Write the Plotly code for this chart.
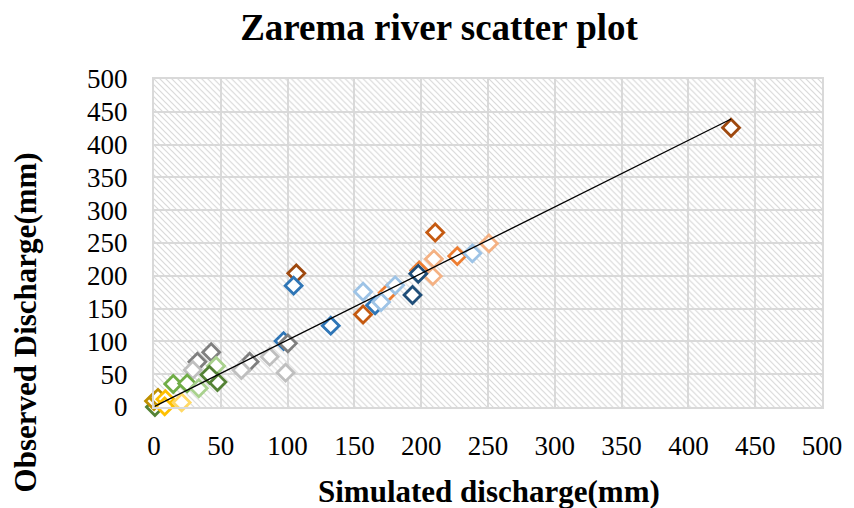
import base64
import plotly.graph_objects as go

# ---- data ----
series_names = ["s1", "s2", "s3", "s4", "s5", "s6", "s7", "s8",
                "s9", "s10", "s11", "s12", "s13", "s14", "s15"]
series_colors = ["#9E480E", "#C55A11", "#ED7D31", "#F4B183", "#2E75B6",
                 "#1F4E79", "#9DC3E6", "#7F7F7F", "#BFBFBF", "#70AD47",
                 "#A9D18E", "#548235", "#BF9000", "#FFC000", "#FFD966"]
sim_s1 = [431.9, 106.5]
obs_s1 = [425.7, 203.7]
sim_s2 = [210.5, 156.5]
obs_s2 = [266.0, 141.0]
sim_s3 = [174.9, 227.0, 198.5]
obs_s3 = [174.0, 230.0, 208.0]
sim_s4 = [209.5, 208.7, 250.7]
obs_s4 = [225.5, 199.5, 249.4]
sim_s5 = [104.5, 132.3, 97.0, 165.5]
obs_s5 = [185.0, 124.0, 100.5, 155.0]
sim_s6 = [193.5, 197.8]
obs_s6 = [170.7, 203.0]
sim_s7 = [156.5, 170.0, 180.5, 238.3]
obs_s7 = [175.7, 160.0, 185.5, 234.2]
sim_s8 = [100.2, 71.6, 42.8, 32.5]
obs_s8 = [97.0, 69.0, 83.5, 69.0]
sim_s9 = [86.6, 98.5, 65.4, 29.0]
obs_s9 = [76.7, 52.3, 56.4, 56.4]
sim_s10 = [14.4, 24.8]
obs_s10 = [35.0, 36.0]
sim_s11 = [46.5, 33.5]
obs_s11 = [62.5, 28.5]
sim_s12 = [47.5, 41.5, 0.7]
obs_s12 = [38.0, 49.0, 0.0]
sim_s13 = [0.0, 3.0]
obs_s13 = [9.0, 14.0]
sim_s14 = [8.5, 8.0]
obs_s14 = [12.0, 1.0]
sim_s15 = [20.7]
obs_s15 = [7.0]

sim_all = [sim_s1, sim_s2, sim_s3, sim_s4, sim_s5, sim_s6, sim_s7, sim_s8,
           sim_s9, sim_s10, sim_s11, sim_s12, sim_s13, sim_s14, sim_s15]
obs_all = [obs_s1, obs_s2, obs_s3, obs_s4, obs_s5, obs_s6, obs_s7, obs_s8,
           obs_s9, obs_s10, obs_s11, obs_s12, obs_s13, obs_s14, obs_s15]

trend_x = [0.5, 432.0]
trend_y = [1.0, 439.0]

tick_vals = [0, 50, 100, 150, 200, 250, 300, 350, 400, 450, 500]

FONT = "Liberation Serif, Times New Roman, serif"

# page has an 8px body margin; figure sized so that it fits the window
W, H = 846, 500
PL, PT = 146, 71          # plot-area left / top inside the figure
PW, PH = 670, 328         # plot-area width / height

fig = go.Figure()
for name, color, xs, ys in zip(series_names, series_colors, sim_all, obs_all):
    fig.add_trace(go.Scatter(
        x=xs, y=ys, mode="markers", name=name, cliponaxis=False,
        marker=dict(symbol="diamond", size=13, color="white",
                    line=dict(color=color, width=2.8)),
        showlegend=False))

fig.add_trace(go.Scatter(x=trend_x, y=trend_y, mode="lines",
                         line=dict(color="black", width=1.3),
                         showlegend=False, cliponaxis=False))

# hatched plot-area background
svg = ("<svg xmlns='http://www.w3.org/2000/svg' width='670' height='328'>"
       "<defs><pattern id='p' width='6' height='6' patternUnits='userSpaceOnUse'>"
       "<path d='M-1,-1 L7,7 M-4,2 L2,8 M2,-4 L8,2' stroke='#d9d9d9' stroke-width='1.2'/>"
       "</pattern></defs><rect width='670' height='328' fill='white'/>"
       "<rect width='670' height='328' fill='url(#p)'/></svg>")
src = "data:image/svg+xml;base64," + base64.b64encode(svg.encode()).decode()
fig.add_layout_image(dict(source=src, xref="x", yref="y", x=0, y=500,
                          sizex=500, sizey=500, sizing="stretch",
                          layer="below"))

axis_common = dict(range=[0, 500], tickvals=tick_vals, showgrid=True,
                   gridcolor="#d9d9d9", gridwidth=2, zeroline=False,
                   showline=True, linecolor="#d9d9d9", linewidth=2,
                   mirror=True, ticks="outside", ticklen=0,
                   tickfont=dict(family=FONT, size=27, color="black"))

fig.update_layout(
    width=W, height=H,
    margin=dict(l=PL, r=W - PL - PW, t=PT, b=H - PT - PH),
    paper_bgcolor="white", plot_bgcolor="white",
    title=dict(text="<b>Zarema river scatter plot</b>",
               font=dict(family=FONT, size=37, color="black"),
               x=431 / W, xanchor="center", y=1 - 19 / H,
               yanchor="middle"),
    xaxis=dict(**axis_common, ticklabelstandoff=14),
    yaxis=dict(**axis_common, ticklabelstandoff=19),
    annotations=[
        dict(text="<b>Simulated discharge(mm)</b>", xref="paper", yref="paper",
             x=(490 - 154) / PW, y=(407 - 491) / PH, xanchor="center",
             yanchor="middle", showarrow=False,
             font=dict(family=FONT, size=31, color="black")),
        dict(text="<b>Observed Discharge(mm)</b>", xref="paper", yref="paper",
             x=(25 - 154) / PW, y=(407 - 322) / PH, xanchor="center",
             yanchor="middle", textangle=-90, showarrow=False,
             font=dict(family=FONT, size=31, color="black")),
    ],
)

fig.write_html("out.html")
